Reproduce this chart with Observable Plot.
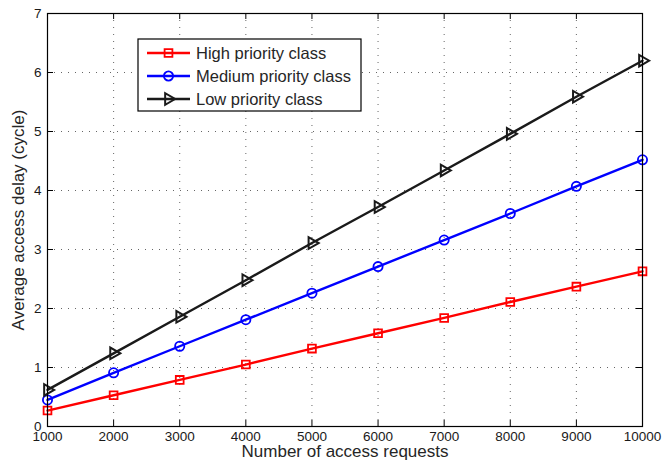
<!DOCTYPE html>
<html>
<head>
<meta charset="utf-8">
<script src="https://cdn.jsdelivr.net/npm/d3@7"></script>
<script src="https://cdn.jsdelivr.net/npm/@observablehq/plot@0.6"></script>
<style>
  body { margin: 0; background: #fff; }
  #chart svg { display: block; }
</style>
</head>
<body>
<div id="chart"></div>
<script>
// Number of access requests (x) and average delay per priority class (y, cycles)
const requests = [1000, 2000, 3000, 4000, 5000, 6000, 7000, 8000, 9000, 10000];
const highDelay = [0.27, 0.53, 0.79, 1.05, 1.32, 1.58, 1.84, 2.11, 2.37, 2.63];
const mediumDelay = [0.45, 0.91, 1.36, 1.81, 2.26, 2.71, 3.16, 3.61, 4.07, 4.52];
const lowDelay = [0.62, 1.24, 1.86, 2.48, 3.11, 3.72, 4.34, 4.96, 5.59, 6.20];

const classNames = ["High priority class", "Medium priority class", "Low priority class"];
const classColors = ["#ff0000", "#0000ff", "#1a1a1a"];

const xTicks = [1000, 2000, 3000, 4000, 5000, 6000, 7000, 8000, 9000, 10000];
const yTicks = [0, 1, 2, 3, 4, 5, 6, 7];

const xLabel = "Number of access requests";
const yLabel = "Average access delay (cycle)";

// Long-format rows built from the series arrays
const seriesValues = [highDelay, mediumDelay, lowDelay];
const rows = seriesValues.flatMap((vals, i) =>
  vals.map((v, j) => ({ requests: requests[j], delay: v, cls: classNames[i] }))
);
const rowsOf = (name) => rows.filter((d) => d.cls === name);

const width = 662, height = 465;
const margin = { top: 13, right: 20, bottom: 39, left: 47 };
const plotW = width - margin.left - margin.right;
const plotH = height - margin.top - margin.bottom;
const tickLen = 6;
const font = "'Liberation Sans', Arial, Helvetica, sans-serif";

const gridStyle = { stroke: "#555", strokeOpacity: 0.9, strokeWidth: 1, strokeDasharray: "1,6" };

// Marker settings per class
const markerOpts = [
  { symbol: "square", r: 4.4, rotate: 0, sw: 1.8 },
  { symbol: "circle", r: 4.6, rotate: 0, sw: 1.8 },
  { symbol: "triangle", r: 4.3, rotate: 90, sw: 2 }
];

const seriesMarks = classNames.flatMap((name, i) => [
  Plot.line(rowsOf(name), {
    x: "requests", y: "delay",
    stroke: classColors[i], strokeWidth: 2.4
  }),
  Plot.dot(rowsOf(name), {
    x: "requests", y: "delay",
    symbol: markerOpts[i].symbol, r: markerOpts[i].r, rotate: markerOpts[i].rotate,
    stroke: classColors[i], strokeWidth: markerOpts[i].sw, fill: "none"
  })
]);

const chart = Plot.plot({
  width, height,
  marginTop: margin.top, marginRight: margin.right,
  marginBottom: margin.bottom, marginLeft: margin.left,
  style: { fontFamily: font, background: "#fff", color: "#1a1a1a" },
  x: { domain: [1000, 10000], label: null },
  y: { domain: [0, 7], label: null },
  marks: [
    Plot.gridX(xTicks, gridStyle),
    Plot.gridY(yTicks, gridStyle),
    ...seriesMarks,
    // inward tick marks on all four sides
    Plot.ruleX(xTicks, { stroke: "#000", insetTop: plotH - tickLen }),
    Plot.ruleX(xTicks, { stroke: "#000", insetBottom: plotH - tickLen }),
    Plot.ruleY(yTicks, { stroke: "#000", insetRight: plotW - tickLen }),
    Plot.ruleY(yTicks, { stroke: "#000", insetLeft: plotW - tickLen }),
    Plot.frame({ stroke: "#000", strokeWidth: 1.2 }),
    Plot.axisX(xTicks, {
      tickSize: 0, tickPadding: 5, fontSize: 13.5, label: null,
      tickFormat: (d) => String(d), fill: "#1a1a1a"
    }),
    Plot.axisY(yTicks, {
      tickSize: 0, tickPadding: 6, fontSize: 13.5, label: null,
      tickFormat: (d) => String(d), fill: "#1a1a1a"
    }),
    Plot.text([xLabel], {
      text: (d) => d, frameAnchor: "bottom", dy: 25,
      textAnchor: "middle", lineAnchor: "middle",
      fontSize: 17, fill: "#262626"
    }),
    Plot.text([yLabel], {
      text: (d) => d, frameAnchor: "left", dx: -29, rotate: -90,
      textAnchor: "middle", lineAnchor: "middle",
      fontSize: 17, fill: "#262626"
    })
  ]
});

document.getElementById("chart").appendChild(chart);

// Legend box in the upper-left of the plot area
const svg = d3.select(chart);
const legend = svg.append("g").attr("font-family", font).attr("text-anchor", "start");
const box = { x: 138, y: 39, w: 223, h: 72 };
legend.append("rect")
  .attr("x", box.x).attr("y", box.y).attr("width", box.w).attr("height", box.h)
  .attr("fill", "#fff").attr("stroke", "#000").attr("stroke-width", 1.2);

const symbolTypes = { square: d3.symbolSquare, circle: d3.symbolCircle, triangle: d3.symbolTriangle };
const rowY = [53, 76, 99];
classNames.forEach((name, i) => {
  const y = rowY[i];
  legend.append("line")
    .attr("x1", 147).attr("x2", 190).attr("y1", y).attr("y2", y)
    .attr("stroke", classColors[i]).attr("stroke-width", 2.4);
  const m = markerOpts[i];
  legend.append("path")
    .attr("d", d3.symbol(symbolTypes[m.symbol], Math.PI * m.r * m.r)())
    .attr("transform", `translate(168.5,${y}) rotate(${m.rotate})`)
    .attr("fill", "none").attr("stroke", classColors[i]).attr("stroke-width", m.sw);
  legend.append("text")
    .attr("x", 196).attr("y", y).attr("dy", "0.35em")
    .attr("text-anchor", "start")
    .attr("font-size", 16.5).attr("fill", "#262626")
    .text(name);
});
</script>
</body>
</html>
